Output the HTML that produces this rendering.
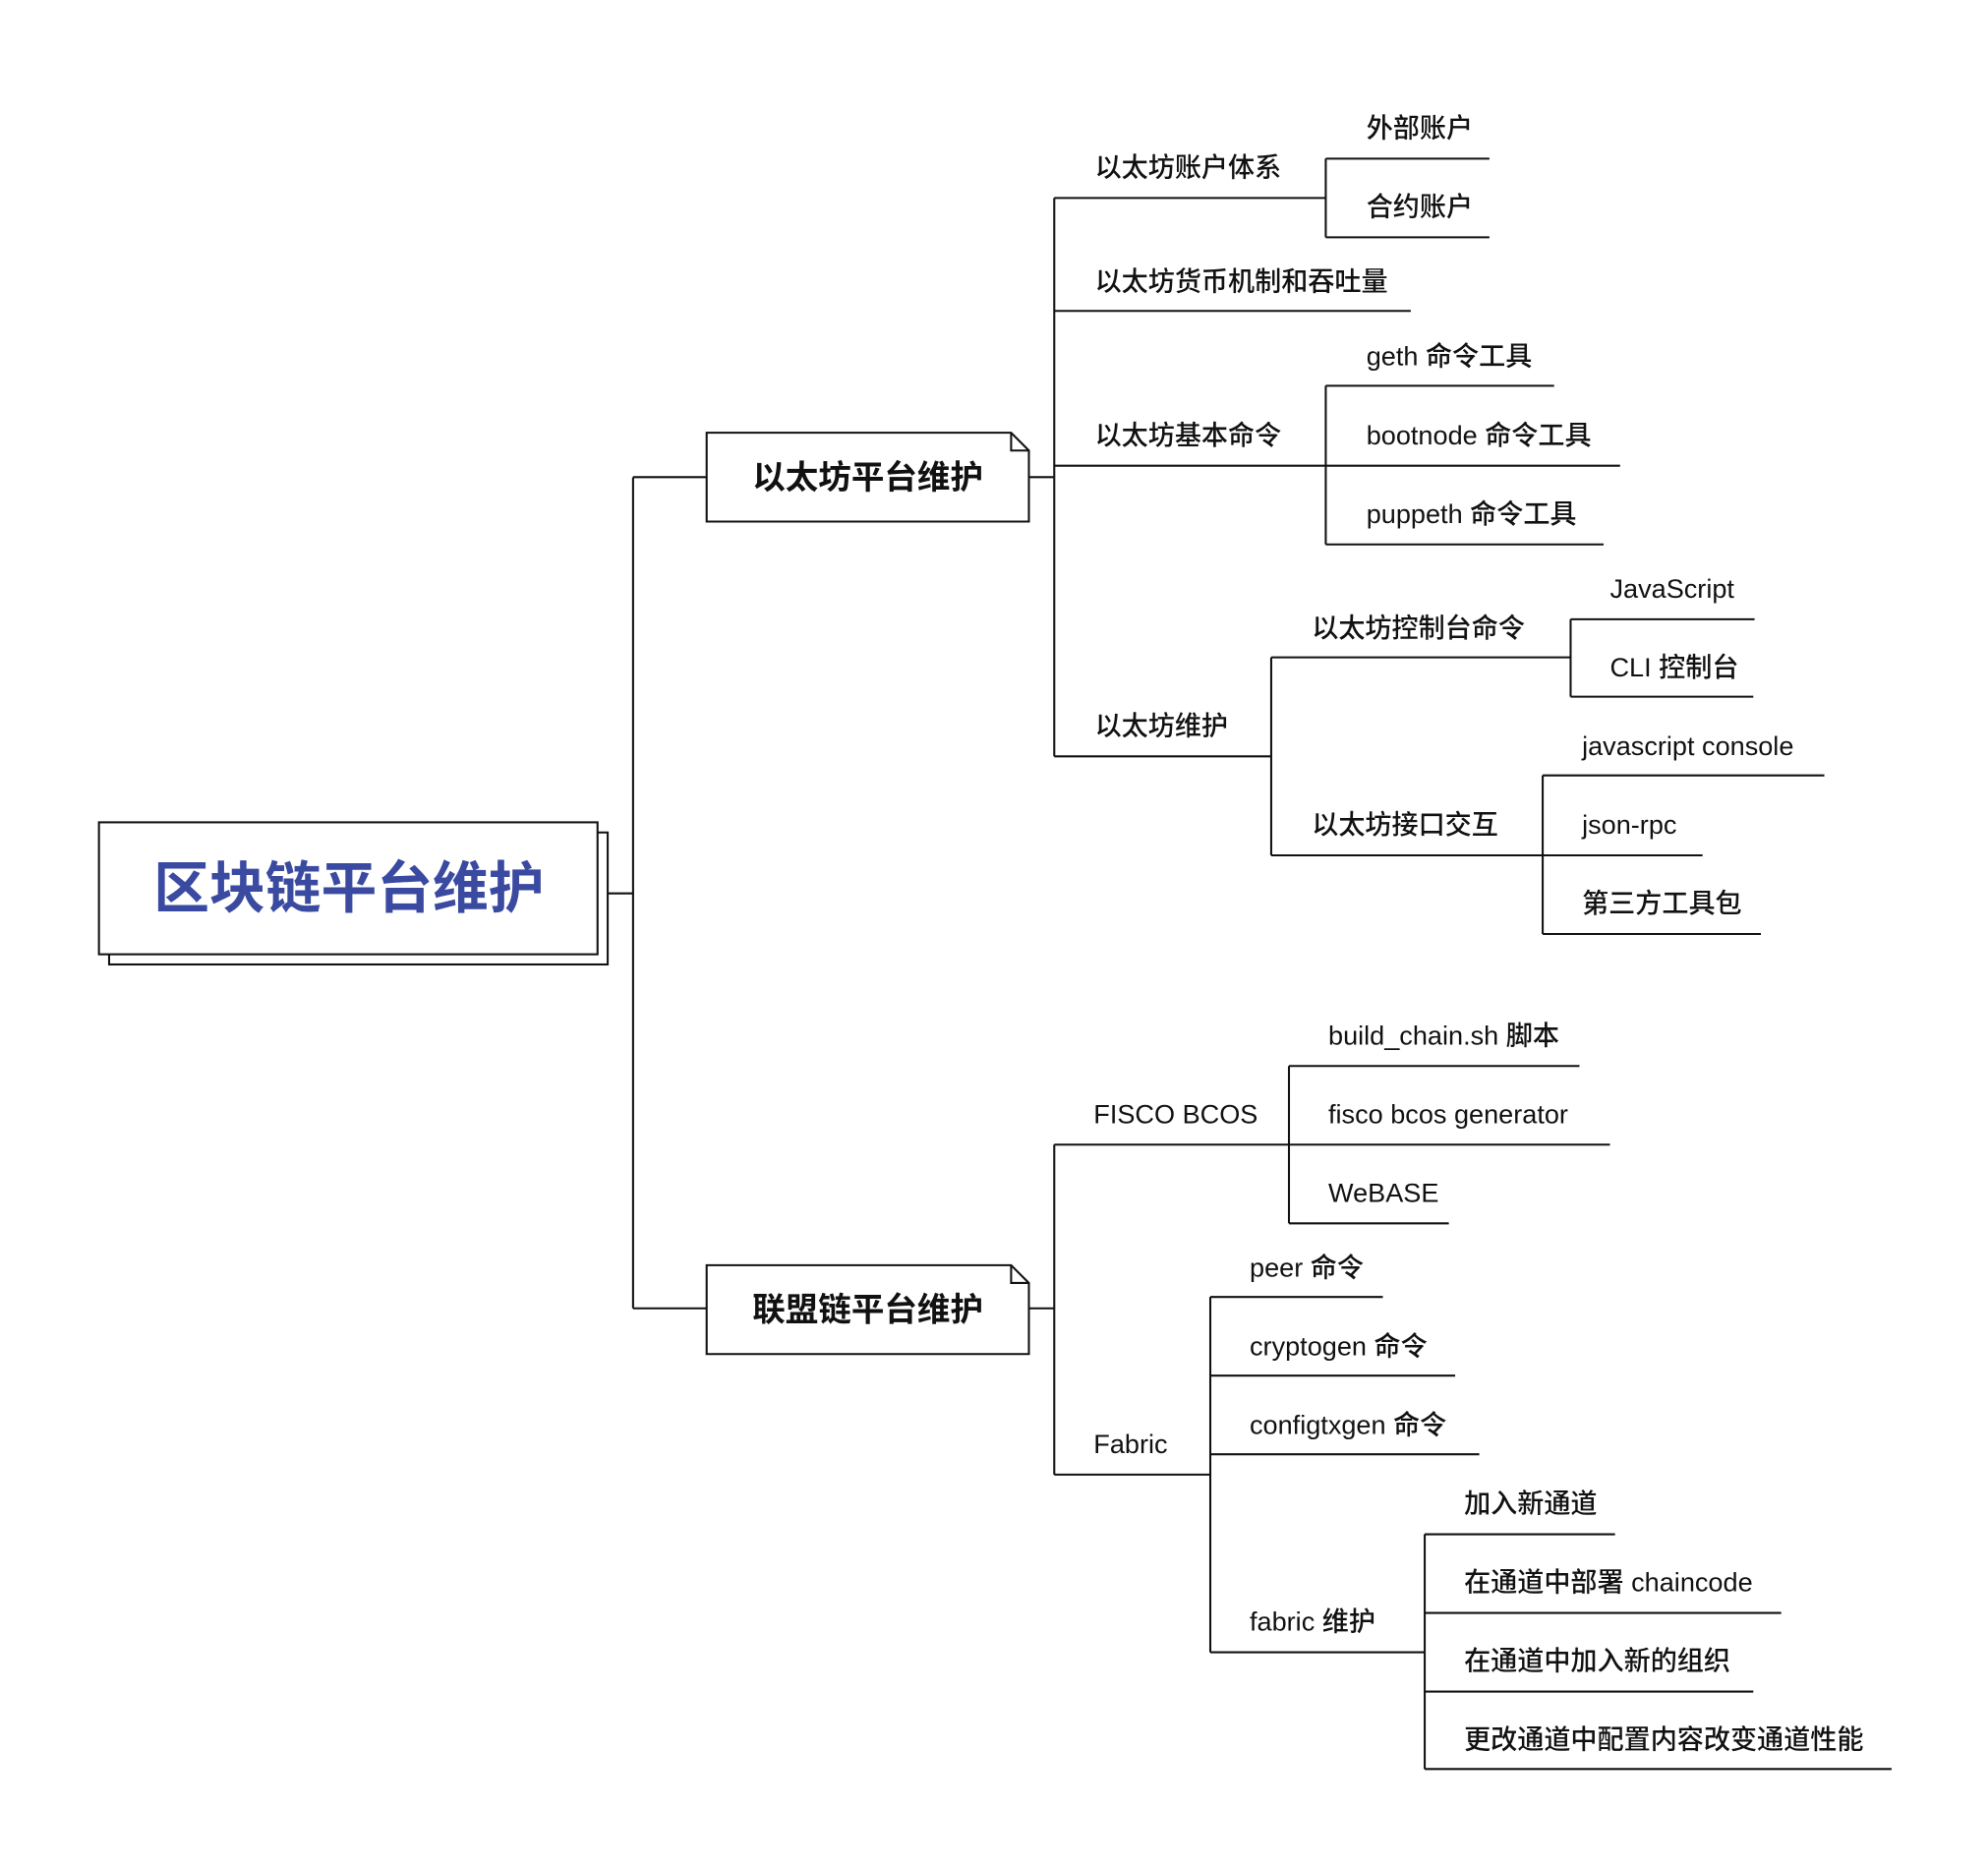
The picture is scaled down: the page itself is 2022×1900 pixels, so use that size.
<!DOCTYPE html>
<html><head><meta charset="utf-8">
<style>
html,body{margin:0;padding:0;background:#fff;}
svg{display:block;}
text{font-family:"Liberation Sans","Noto Sans CJK SC",sans-serif;fill:#111;font-size:21px;font-weight:500;}
</style></head>
<body>
<svg width="2022" height="1900" viewBox="0 0 1567 1472" preserveAspectRatio="none" xmlns="http://www.w3.org/2000/svg">
<g fill="none" stroke="#111" stroke-width="1.6">
<rect x="86" y="656" width="393" height="104" fill="#fff"/>
<rect x="78" y="648" width="393" height="104" fill="#fff"/>
<path d="M479 704H499M499 376V1031M499 376H557M499 1031H557"/>
<path d="M557 341H797L811 355V411H557Z" fill="#fff"/>
<path d="M797 341V355H811"/>
<path d="M557 997H797L811 1011V1067H557Z" fill="#fff"/>
<path d="M797 997V1011H811"/>
<path d="M811 376H831M831 156V596"/>
<path d="M831 156H1045M1045 125V187M1045 125H1174M1045 187H1174"/>
<path d="M831 245H1112"/>
<path d="M831 367H1045M1045 304V429M1045 304H1225M1045 367H1277M1045 429H1264"/>
<path d="M831 596H1002M1002 518V674"/>
<path d="M1002 518H1238M1238 488V549M1238 488H1383M1238 549H1382"/>
<path d="M1002 674H1216M1216 611V736M1216 611H1438M1216 674H1342M1216 736H1388"/>
<path d="M811 1031H831M831 902V1162"/>
<path d="M831 902H1016M1016 840V964M1016 840H1245M1016 902H1269M1016 964H1142"/>
<path d="M831 1162H954M954 1022V1302M954 1022H1090M954 1084H1147M954 1146H1166M954 1302H1123"/>
<path d="M1123 1209V1394M1123 1209H1273M1123 1271H1404M1123 1333H1382M1123 1394H1491"/>
</g>
<text x="275" y="715" text-anchor="middle" style="font-size:44px;font-weight:700;fill:#3a4aa0">区块链平台维护</text>
<text x="684" y="385" text-anchor="middle" style="font-size:26px;font-weight:700">以太坊平台维护</text>
<text x="684" y="1041" text-anchor="middle" style="font-size:26px;font-weight:700">联盟链平台维护</text>

<text x="863" y="139">以太坊账户体系</text>
<text x="1077" y="108">外部账户</text>
<text x="1077" y="170">合约账户</text>
<text x="863" y="229">以太坊货币机制和吞吐量</text>
<text x="863" y="350">以太坊基本命令</text>
<text x="1077" y="288">geth 命令工具</text>
<text x="1077" y="350">bootnode 命令工具</text>
<text x="1077" y="412">puppeth 命令工具</text>
<text x="863" y="579">以太坊维护</text>
<text x="1034" y="502">以太坊控制台命令</text>
<text x="1269" y="471">JavaScript</text>
<text x="1269" y="533">CLI 控制台</text>
<text x="1034" y="657">以太坊接口交互</text>
<text x="1247" y="595">javascript console</text>
<text x="1247" y="657">json-rpc</text>
<text x="1247" y="719">第三方工具包</text>

<text x="862" y="885">FISCO BCOS</text>
<text x="1047" y="823">build_chain.sh 脚本</text>
<text x="1047" y="885">fisco bcos generator</text>
<text x="1047" y="947">WeBASE</text>
<text x="862" y="1145">Fabric</text>
<text x="985" y="1006">peer 命令</text>
<text x="985" y="1068">cryptogen 命令</text>
<text x="985" y="1130">configtxgen 命令</text>
<text x="985" y="1285">fabric 维护</text>
<text x="1154" y="1192">加入新通道</text>
<text x="1154" y="1254">在通道中部署 chaincode</text>
<text x="1154" y="1316">在通道中加入新的组织</text>
<text x="1154" y="1378">更改通道中配置内容改变通道性能</text>
</svg>
</body></html>
